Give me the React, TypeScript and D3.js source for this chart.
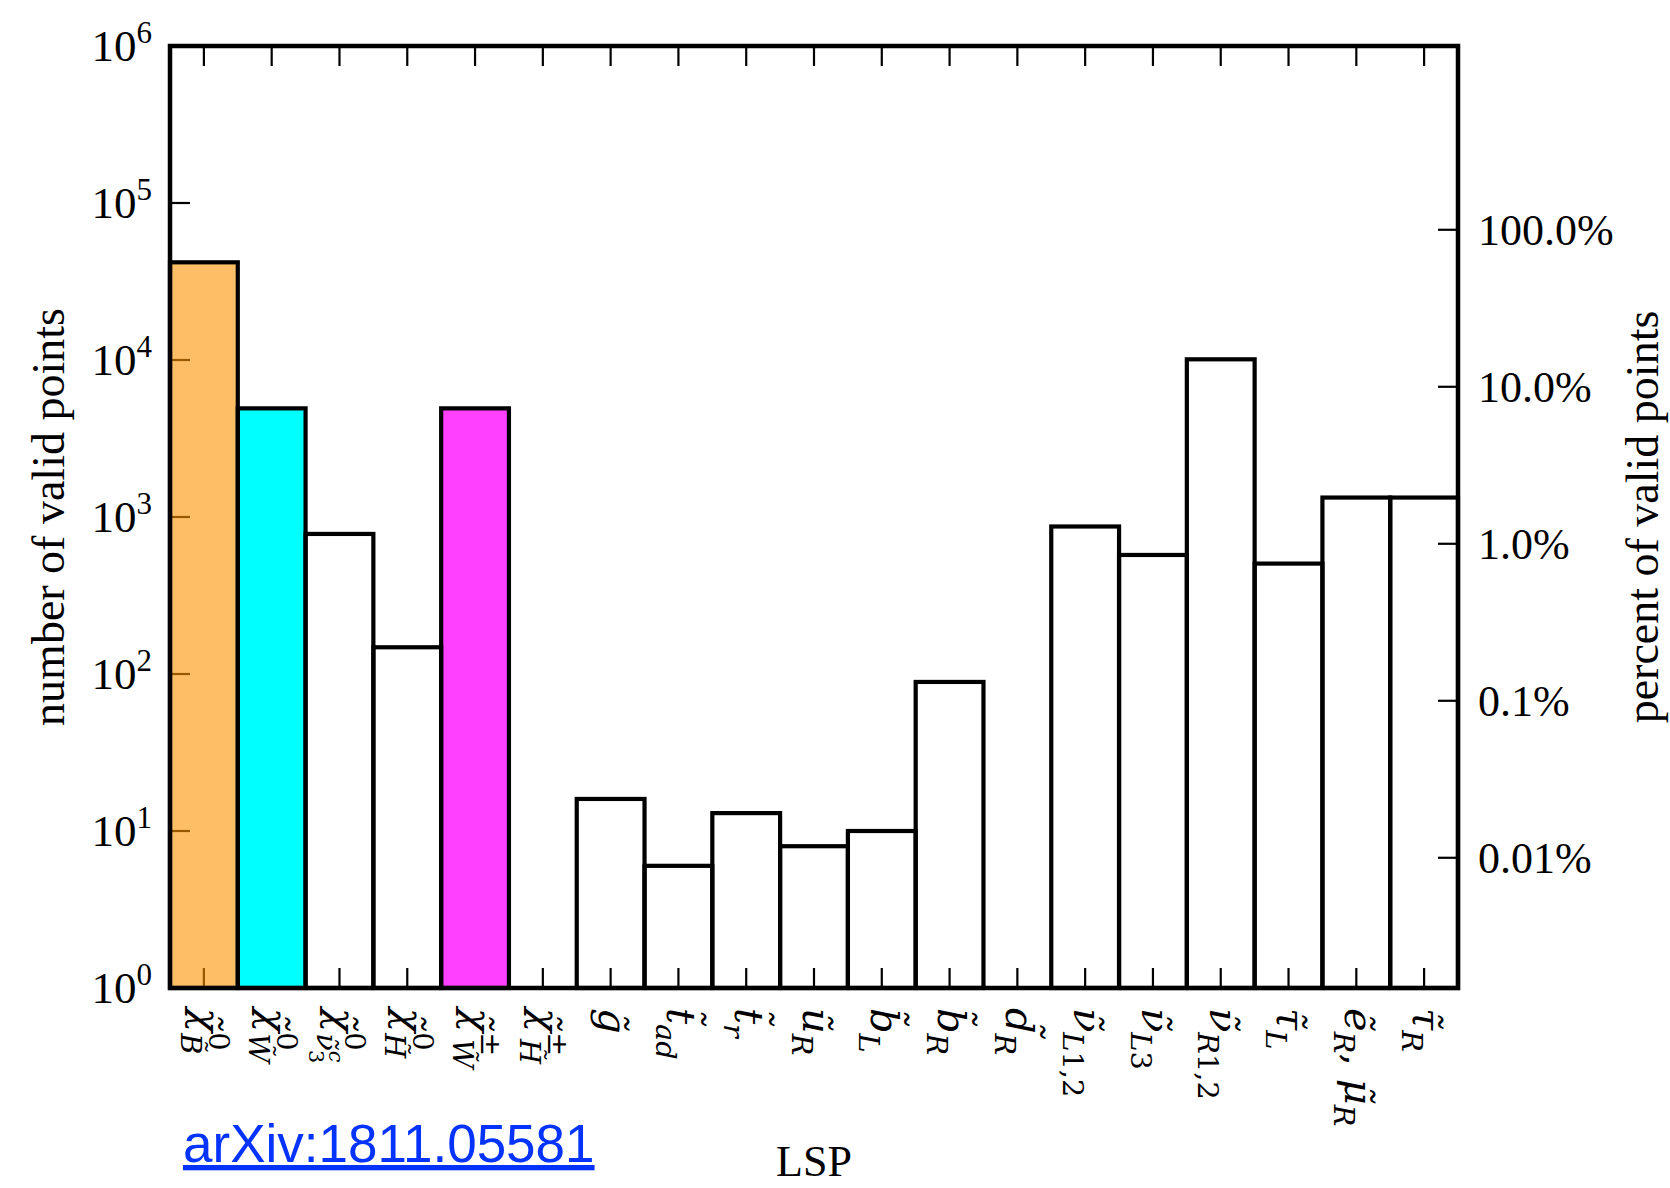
import React from "react";
import * as d3 from "d3";

// LSP species, written in a small TeX-like notation (^ superscript, _ subscript, {} groups)
const categories: string[] = [
  "χ̃^0_{B̃}",
  "χ̃^0_{W̃}",
  "χ̃^0_{ν̃^c_3}",
  "χ̃^0_{H̃}",
  "χ̃^±_{W̃}",
  "χ̃^±_{H̃}",
  "g̃",
  "t̃_{ad}",
  "t̃_r",
  "ũ_R",
  "b̃_L",
  "b̃_R",
  "d̃_R",
  "ν̃_{L1,2}",
  "ν̃_{L3}",
  "ν̃_{R1,2}",
  "τ̃_L",
  "ẽ_R, μ̃_R",
  "τ̃_R",
];

// number of valid points for each LSP species
const counts: number[] = [
  41900, 4920, 780, 148, 4920, 0, 16, 6, 13, 8, 10, 89, 0, 870, 573, 10100, 505, 1330, 1330,
];

const leftExponents: number[] = [0, 1, 2, 3, 4, 5, 6];
const rightPercents: number[] = [100, 10, 1, 0.1, 0.01];

const yTitleLeft = "number of valid points";
const yTitleRight = "percent of valid points";
const xTitle = "LSP";
const reference = "arXiv:1811.05581";

// fills of the highlighted species
const FILLS: Record<string, { color: string; opacity: number }> = {
  "χ̃^0_{B̃}": { color: "#FC9300", opacity: 0.6 },
  "χ̃^0_{W̃}": { color: "#00FFFF", opacity: 1 },
  "χ̃^±_{W̃}": { color: "#FF40FF", opacity: 1 },
};

type Seg = { text: string; shift: number; scale: number; back: number; upright: boolean };

const isMark = (ch: string) => /[\u0300-\u036f]/.test(ch);
const isUpright = (ch: string) => /[0-9,±∓ ]/.test(ch);
const SUB_SCALE = 0.72;
const CHAR_W = 0.6;

function parseTex(s: string, shift = 0, scale = 1): Seg[] {
  const out: Seg[] = [];
  const chars = Array.from(s);
  let i = 0;
  let prevSupWidth = 0;
  let prevWasSup = false;
  const readGroup = (): string => {
    if (chars[i] === "{") {
      let depth = 1;
      let j = i + 1;
      while (j < chars.length && depth > 0) {
        if (chars[j] === "{") depth++;
        else if (chars[j] === "}") depth--;
        j++;
      }
      const g = chars.slice(i + 1, j - 1).join("");
      i = j;
      return g;
    }
    let j = i + 1;
    while (j < chars.length && isMark(chars[j])) j++;
    const g = chars.slice(i, j).join("");
    i = j;
    return g;
  };
  while (i < chars.length) {
    const ch = chars[i];
    if (ch === "^" || ch === "_") {
      i++;
      const g = readGroup();
      const sc = scale * SUB_SCALE;
      const sh = ch === "^" ? shift - 0.42 * scale : shift + 0.28 * scale;
      const segs = parseTex(g, sh, sc);
      if (ch === "_" && prevWasSup && segs.length) segs[0].back = prevSupWidth;
      out.push(...segs);
      if (ch === "^") {
        prevWasSup = true;
        prevSupWidth = segs.reduce(
          (w, sg) => w + Array.from(sg.text).filter((c) => !isMark(c)).length * CHAR_W * sg.scale,
          0
        );
      } else prevWasSup = false;
      continue;
    }
    prevWasSup = false;
    let j = i + 1;
    while (j < chars.length && isMark(chars[j])) j++;
    const t = chars.slice(i, j).join("");
    i = j;
    const up = isUpright(t[0]);
    const last = out[out.length - 1];
    if (last && last.shift === shift && last.scale === scale && last.upright === up) last.text += t;
    else out.push({ text: t, shift, scale, back: 0, upright: up });
  }
  return out;
}

const W = 1670;
const H = 1188;
const M = { left: 170, right: 1458, top: 46, bottom: 988 };
const SERIF = "'Liberation Serif', 'DejaVu Serif', serif";
const MATH = "'DejaVu Serif', serif";

function TexLabel({ tex, x, y, size }: { tex: string; x: number; y: number; size: number }) {
  const segs = parseTex(tex);
  let prev = 0;
  return (
    <text
      transform={`translate(${x},${y}) rotate(90)`}
      x={0}
      y={size * 0.28}
      fontFamily={MATH}
      fontSize={size}
      fill="#000"
    >
      {segs.map((sg, k) => {
        const dy = (sg.shift - prev) * size;
        prev = sg.shift;
        return (
          <tspan
            key={k}
            dx={sg.back ? -sg.back * size : undefined}
            dy={dy || undefined}
            fontSize={sg.scale * size}
            fontStyle={sg.upright ? "normal" : "italic"}
          >
            {sg.text}
          </tspan>
        );
      })}
    </text>
  );
}

export default function App() {
  const x = d3.scaleBand<string>().domain(categories).range([M.left, M.right]).padding(0);
  const y = d3.scaleLog().domain([1, 1e6]).range([M.bottom, M.top]);
  const total = d3.sum(counts);
  const yPct = d3
    .scaleLog()
    .domain([(1 / total) * 100, (1e6 / total) * 100])
    .range([M.bottom, M.top]);

  const bw = x.bandwidth();
  const tickLen = 20;
  const fmtPct = (p: number) => (p >= 0.1 ? p.toFixed(1) : String(p)) + "%";

  const bars = categories
    .map((c, i) => ({ c, v: counts[i] }))
    .filter((d) => d.v > 0);

  return (
    <svg width={W} height={H} style={{ display: "block", position: "absolute", left: 0, top: 0, background: "#fff" }}>
      <rect x={0} y={0} width={W} height={H} fill="#fff" />

      {/* ticks on all four sides, pointing inward */}
      <g stroke="#000" strokeWidth={2.2}>
        {categories.map((c) => {
          const cx = (x(c) as number) + bw / 2;
          return (
            <g key={"xt" + c}>
              <line x1={cx} x2={cx} y1={M.top} y2={M.top + tickLen} />
              <line x1={cx} x2={cx} y1={M.bottom} y2={M.bottom - tickLen} />
            </g>
          );
        })}
        {leftExponents.slice(1, -1).map((e) => (
          <line key={"yl" + e} x1={M.left} x2={M.left + tickLen} y1={y(10 ** e)} y2={y(10 ** e)} />
        ))}
        {rightPercents.map((p) => (
          <line key={"yr" + p} x1={M.right} x2={M.right - tickLen} y1={yPct(p)} y2={yPct(p)} />
        ))}
      </g>

      {/* highlighted fills */}
      {bars
        .filter((d) => FILLS[d.c])
        .map((d) => (
          <rect
            key={"f" + d.c}
            x={x(d.c) as number}
            y={y(d.v)}
            width={bw}
            height={M.bottom - y(d.v)}
            fill={FILLS[d.c].color}
            fillOpacity={FILLS[d.c].opacity}
          />
        ))}

      {/* histogram outlines */}
      <g fill="none" stroke="#000" strokeWidth={4.2}>
        {bars.map((d) => (
          <rect key={"b" + d.c} x={x(d.c) as number} y={y(d.v)} width={bw} height={M.bottom - y(d.v)} />
        ))}
      </g>

      {/* frame */}
      <rect
        x={M.left}
        y={M.top}
        width={M.right - M.left}
        height={M.bottom - M.top}
        fill="none"
        stroke="#000"
        strokeWidth={4.5}
      />

      {/* left tick labels */}
      <g fontFamily={SERIF} fontSize={45} fill="#000">
        {leftExponents.map((e) => (
          <text key={"ll" + e} x={152} y={y(10 ** e) + 15} textAnchor="end">
            10
            <tspan dy={-18} fontSize={31}>
              {e}
            </tspan>
          </text>
        ))}
      </g>

      {/* right tick labels */}
      <g fontFamily={SERIF} fontSize={44} fill="#000">
        {rightPercents.map((p) => (
          <text key={"rl" + p} x={1478} y={yPct(p) + 15}>
            {fmtPct(p)}
          </text>
        ))}
      </g>

      {/* category labels */}
      {categories.map((c) => (
        <TexLabel key={"cl" + c} tex={c} x={(x(c) as number) + bw / 2} y={1008} size={40} />
      ))}

      {/* axis titles */}
      <text
        transform={`translate(64,${(M.top + M.bottom) / 2}) rotate(-90)`}
        textAnchor="middle"
        fontFamily={SERIF}
        fontSize={46}
      >
        {yTitleLeft}
      </text>
      <text
        transform={`translate(1658,${(M.top + M.bottom) / 2}) rotate(-90)`}
        textAnchor="middle"
        fontFamily={SERIF}
        fontSize={46}
      >
        {yTitleRight}
      </text>
      <text x={(M.left + M.right) / 2} y={1176} textAnchor="middle" fontFamily={SERIF} fontSize={44}>
        {xTitle}
      </text>

      {/* reference link */}
      <text
        x={183}
        y={1162}
        fontFamily="'Liberation Sans', Arial, sans-serif"
        fontSize={53}
        fill="#0433FF"
        textDecoration="underline"
      >
        {reference}
      </text>
    </svg>
  );
}
